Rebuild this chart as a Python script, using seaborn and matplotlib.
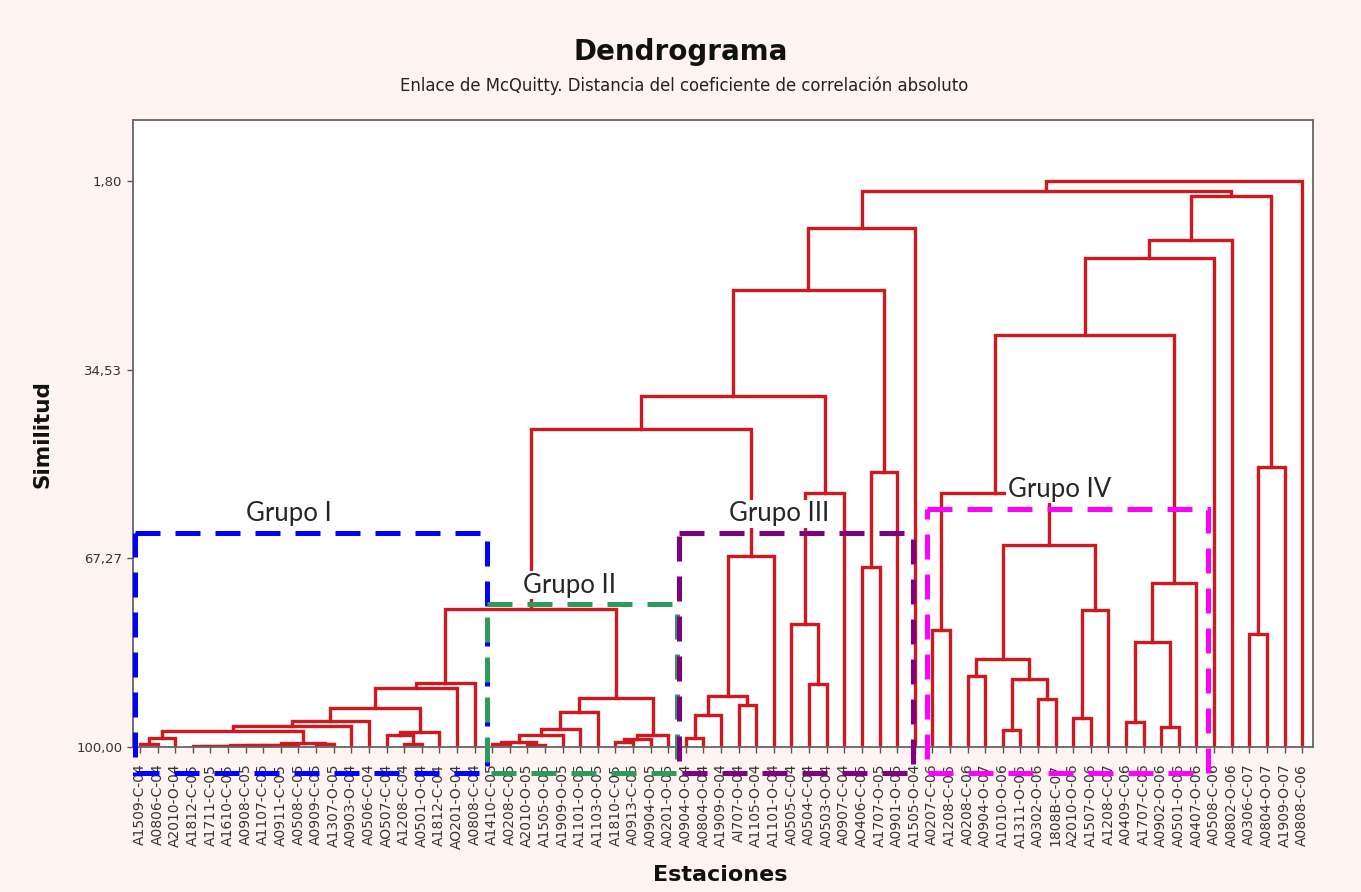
import matplotlib
matplotlib.use("Agg")
import numpy as np
import pandas as pd
import matplotlib.pyplot as plt
from matplotlib.patches import Rectangle
import seaborn as sns

# leaf labels, left to right
estaciones = [
    "A1509-C-04", "A0806-C-04", "A2010-O-04", "A1812-C-05", "A1711-C-05",
    "A1610-C-05", "A0908-C-05", "A1107-C-05", "A0911-C-05", "A0508-C-05",
    "A0909-C-05", "A1307-O-05", "A0903-O-04", "A0506-C-04", "AO507-C-04",
    "A1208-C-04", "A0501-O-04", "A1812-C-04", "AO201-O-04", "A0808-C-04",
    "A1410-C-05", "A0208-C-05", "A2010-O-05", "A1505-O-05", "A1909-O-05",
    "A1101-O-05", "A1103-O-05", "A1810-C-05", "A0913-C-05", "A0904-O-05",
    "A0201-O-05", "A0904-O-04", "A0804-O-04", "A1909-O-04", "AI707-O-04",
    "A1105-O-04", "A1101-O-04", "A0505-C-04", "A0504-C-04", "A0503-O-04",
    "A0907-C-04", "AO406-C-05", "A1707-O-05", "A0901-O-05", "A1505-O-04",
    "A0207-C-06", "A1208-C-06", "A0208-C-06", "A0904-O-07", "A1010-O-06",
    "A1311-O-06", "A0302-O-06", "1808B-C-07", "A2010-O-06", "A1507-O-06",
    "A1208-C-07", "A0409-C-06", "A1707-C-06", "A0902-O-06", "A0501-O-06",
    "A0407-O-06", "A0508-C-06", "A0802-O-06", "A0306-C-07", "A0804-O-07",
    "A1909-O-07", "A0808-C-06",
]

# merges: (name, left, right, similarity); ints are leaf numbers (1-based)
uniones = [
    ("a1", 1, 2, 99.45), ("a2", "a1", 3, 98.4),
    ("a3", 4, 5, 99.85), ("a4", "a3", 6, 99.8), ("a5", "a4", 7, 99.75),
    ("a6", "a5", 8, 99.7), ("a7", "a6", 9, 99.65), ("a8", "a7", 10, 99.6),
    ("a9", 11, 12, 99.45), ("a10", "a8", "a9", 99.3),
    ("a11", "a2", "a10", 97.3), ("a12", "a11", 13, 96.3), ("a13", "a12", 14, 95.45),
    ("a14", 16, 17, 99.4), ("a15", 15, "a14", 97.9), ("a16", "a15", 18, 97.4),
    ("a17", "a13", "a16", 93.3), ("a18", "a17", 19, 89.7), ("a19", "a18", 20, 88.95),
    ("b1", 21, 22, 99.4), ("b2", 23, 24, 99.7), ("b3", "b1", "b2", 99.1),
    ("b4", "b3", 25, 97.9), ("b5", "b4", 26, 96.8), ("b6", "b5", 27, 94.0),
    ("b7", 28, 29, 99.1), ("b8", "b7", 30, 98.6), ("b9", "b8", 31, 97.9),
    ("b10", "b6", "b9", 91.5), ("c1", "a19", "b10", 76.0),
    ("d1", 32, 33, 98.5), ("d2", "d1", 34, 94.4), ("d3", 35, 36, 92.7),
    ("d4", "d2", "d3", 91.2), ("d5", "d4", 37, 66.9),
    ("d6", 39, 40, 89.0), ("d7", 38, "d6", 78.6), ("d8", "d7", 41, 55.9),
    ("d9", 42, 43, 68.8), ("d10", "d9", 44, 52.3),
    ("e1", "c1", "d5", 44.8), ("e2", "e1", "d8", 39.1),
    ("e3", "e2", "d10", 20.6), ("e4", "e3", 45, 9.8),
    ("f1", 46, 47, 79.7), ("f2", 48, 49, 87.6), ("f3", 50, 51, 97.1),
    ("f4", 52, 53, 91.7), ("f5", "f3", "f4", 88.2), ("f6", "f2", "f5", 84.7),
    ("f7", 54, 55, 94.9), ("f8", "f7", 56, 76.2), ("f9", "f6", "f8", 65.0),
    ("f10", "f1", "f9", 55.9),
    ("g1", 57, 58, 95.6), ("g2", 59, 60, 96.5), ("g3", "g1", "g2", 81.7),
    ("g4", "g3", 61, 71.6),
    ("h1", "f10", "g4", 28.4), ("h2", "h1", 62, 15.0), ("h3", "h2", 63, 11.9),
    ("k1", 64, 65, 80.4), ("k2", "k1", 66, 51.4),
    ("h4", "h3", "k2", 4.4), ("t1", "e4", "h4", 3.5), ("t2", "t1", 67, 1.8),
]

y_ticks = [1.80, 34.53, 67.27, 100.00]


def build_segments(labels, merges):
    pos = {i + 1: (float(i + 1), 100.0) for i in range(len(labels))}
    rows = []
    for k, (name, left, right, sim) in enumerate(merges):
        xl, yl = pos[left]
        xr, yr = pos[right]
        for x, y in [(xl, yl), (xl, sim), (xr, sim), (xr, yr)]:
            rows.append({"seg": k, "x": x, "y": y})
        pos[name] = ((xl + xr) / 2, sim)
    return pd.DataFrame(rows)


seg = build_segments(estaciones, uniones)

sns.set_style("ticks")
plt.rcParams["font.family"] = ["DejaVu Sans"]

fig = plt.figure(figsize=(13.61, 8.92), dpi=100, facecolor="#FFF4F2")
ax = fig.add_axes([0.0975, 0.1626, 0.867, 0.703])
ax.set_facecolor("white")

sns.lineplot(data=seg, x="x", y="y", units="seg", estimator=None, sort=False,
             color="#D0191E", linewidth=2.4, legend=False, ax=ax,
             solid_joinstyle="miter", solid_capstyle="projecting")

ax.set_xlim(0.585, 67.6)
ax.set_ylim(100, -8.9)
ax.set_xticks(np.arange(1, len(estaciones) + 1))
ax.set_xticklabels(estaciones, rotation=90, fontsize=10, color="#333333")
ax.set_yticks(y_ticks)
ax.set_yticklabels([f"{v:.2f}".replace(".", ",") for v in y_ticks],
                   fontsize=9.5, color="#333333")
ax.tick_params(axis="both", direction="out", length=4, width=1, color="#555555")
ax.tick_params(axis="x", pad=8)
ax.set_xlabel("")
ax.set_ylabel("")
for sp in ax.spines.values():
    sp.set_visible(True)
    sp.set_color("#666666")
    sp.set_linewidth(1.3)

# group boxes
grupos = [
    ("Grupo I", 0.72, 20.72, 62.8, "#0000FF", 9.45, 59.5),
    ("Grupo II", 20.72, 31.51, 75.15, "#2E9B5E", 25.4, 71.9),
    ("Grupo III", 31.63, 44.92, 62.8, "#800080", 37.3, 59.5),
    ("Grupo IV", 45.72, 61.68, 58.65, "#FF00FF", 53.2, 55.3),
]
for nombre, x0, x1, ytop, col, tx, ty in grupos:
    ax.add_patch(Rectangle((x0, ytop), x1 - x0, 104.5 - ytop, fill=False,
                           edgecolor=col, linewidth=3.6, linestyle=(0, (5, 3)),
                           clip_on=False, zorder=4))
    ax.text(tx, ty, nombre, ha="center", va="center", fontsize=18.5,
            family=["Lato", "DejaVu Sans"], zorder=5,
            bbox=dict(facecolor="white", edgecolor="none", pad=1.0))

fig.text(0.5, 1 - 52 / 892, "Dendrograma", ha="center", va="center",
         fontsize=20, fontweight="bold", color="#111111")
fig.text(0.503, 1 - 86 / 892,
         "Enlace de McQuitty. Distancia del coeficiente de correlación absoluto",
         ha="center", va="center", fontsize=11.9, color="#222222")
fig.text(42 / 1361, 1 - 434 / 892, "Similitud", rotation=90, ha="center",
         va="center", fontsize=15.5, fontweight="bold", color="#111111")
fig.text(720 / 1361, 1 - 875 / 892, "Estaciones", ha="center", va="center",
         fontsize=16, fontweight="bold", color="#111111")

fig.savefig("out.png", dpi=100, facecolor=fig.get_facecolor())
